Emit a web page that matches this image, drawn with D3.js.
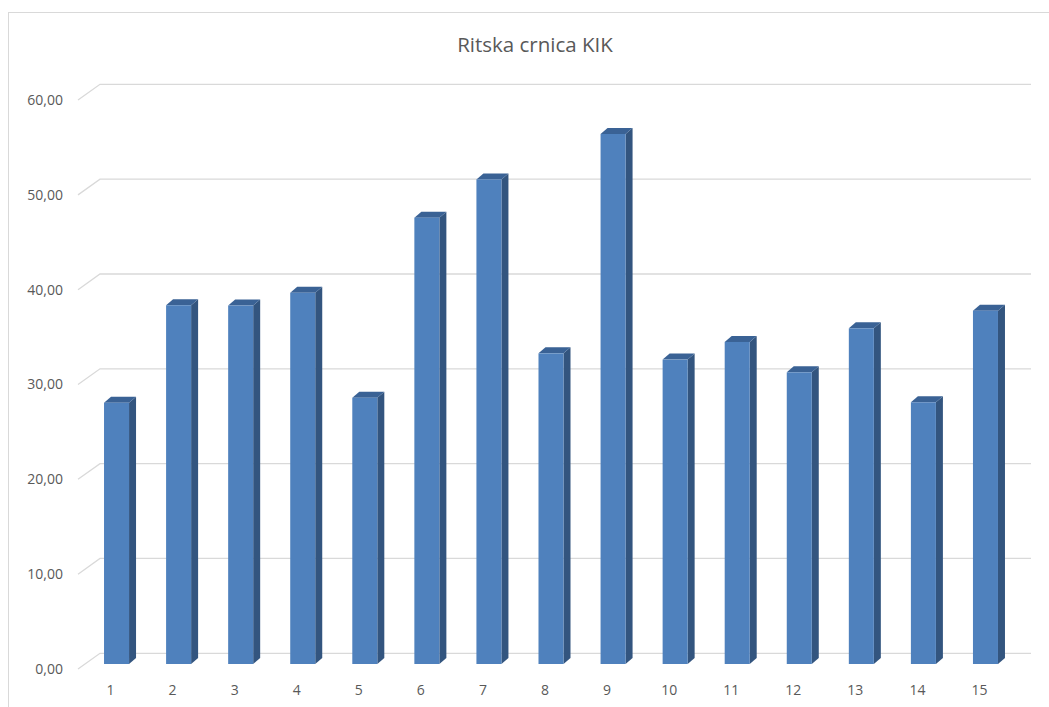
<!DOCTYPE html>
<html>
<head>
<meta charset="utf-8">
<script src="https://cdn.jsdelivr.net/npm/d3@7"></script>
<style>
  html, body { margin: 0; padding: 0; background: #fff; }
  svg { display: block; }
  text { font-family: "Open Sans", "Noto Sans", sans-serif; fill: #595959; }
</style>
</head>
<body>
<svg id="chart" width="1049" height="707"></svg>
<script>
const title = "Ritska crnica KIK";
const categories = ["1","2","3","4","5","6","7","8","9","10","11","12","13","14","15"];
const values = [27.55, 37.83, 37.8, 39.15, 28.08, 47.07, 51.1, 32.76, 55.89, 32.1, 33.96, 30.76, 35.4, 27.6, 37.26];
const yTicks = [0, 10, 20, 30, 40, 50, 60];
const fmt = v => v.toFixed(2).replace(".", ",");

const svg = d3.select("#chart");
const W = 1049, H = 707;

// frame
svg.append("line").attr("x1", 8).attr("x2", W).attr("y1", 12.5).attr("y2", 12.5)
  .attr("stroke", "#d9d9d9").attr("stroke-width", 1);
svg.append("line").attr("x1", 8.5).attr("x2", 8.5).attr("y1", 12).attr("y2", H)
  .attr("stroke", "#d9d9d9").attr("stroke-width", 1);

// scales
const x = d3.scaleBand().domain(categories).range([85.5, 1016.5])
  .paddingInner(0.597).paddingOuter(0.2985);
const y = d3.scaleLinear().domain([0, 60]).range([664, 664 - 60 * 9.483]);

// oblique depth
const floorFront = 5;     // y offset of front floor edge relative to bar front
const wallBack = -10.7;   // y offset of back wall relative to bar front
const sideX0 = 78, wallX0 = 100, wallX1 = 1031;
const bdx = 7, bdy = -6;  // bar depth

// gridlines
const grid = svg.append("g");
yTicks.forEach(v => {
  const yf = y(v) + floorFront, yb = y(v) + wallBack;
  grid.append("path")
    .attr("d", `M${sideX0},${yf}L${wallX0},${yb}L${wallX1},${yb}`)
    .attr("fill", "none").attr("stroke", "#d9d9d9").attr("stroke-width", 1.3);
});

// y labels
svg.append("g").selectAll("text").data(yTicks).join("text")
  .attr("x", 63).attr("y", v => y(v) + floorFront)
  .attr("dy", "0.35em").attr("text-anchor", "end")
  .style("font-size", "14px").text(fmt);

// x labels
svg.append("g").selectAll("text").data(categories).join("text")
  .attr("x", d => x(d) + x.bandwidth() / 2 - 6).attr("y", 690)
  .attr("dy", "0.35em").attr("text-anchor", "middle")
  .style("font-size", "14px").text(d => d);

// bars
const bars = svg.append("g").selectAll("g").data(values).join("g");
const bw = x.bandwidth();
bars.append("path") // side
  .attr("d", (v, i) => {
    const x1 = x(categories[i]) + bw, yt = y(v), yb = y(0);
    return `M${x1},${yt}L${x1 + bdx},${yt + bdy}L${x1 + bdx},${yb + bdy}L${x1},${yb}Z`;
  }).attr("fill", "#33557f");
bars.append("path") // top
  .attr("d", (v, i) => {
    const x0 = x(categories[i]), yt = y(v);
    return `M${x0},${yt}L${x0 + bw},${yt}L${x0 + bw + bdx},${yt + bdy}L${x0 + bdx},${yt + bdy}Z`;
  }).attr("fill", "#3a6295");
bars.append("rect") // front
  .attr("x", (v, i) => x(categories[i])).attr("y", v => y(v))
  .attr("width", bw).attr("height", v => y(0) - y(v))
  .attr("fill", "#4f81bd");

// title
svg.append("text").attr("x", 535).attr("y", 45).attr("dy", "0.35em")
  .attr("text-anchor", "middle").style("font-size", "20.5px").text(title);
</script>
</body>
</html>
